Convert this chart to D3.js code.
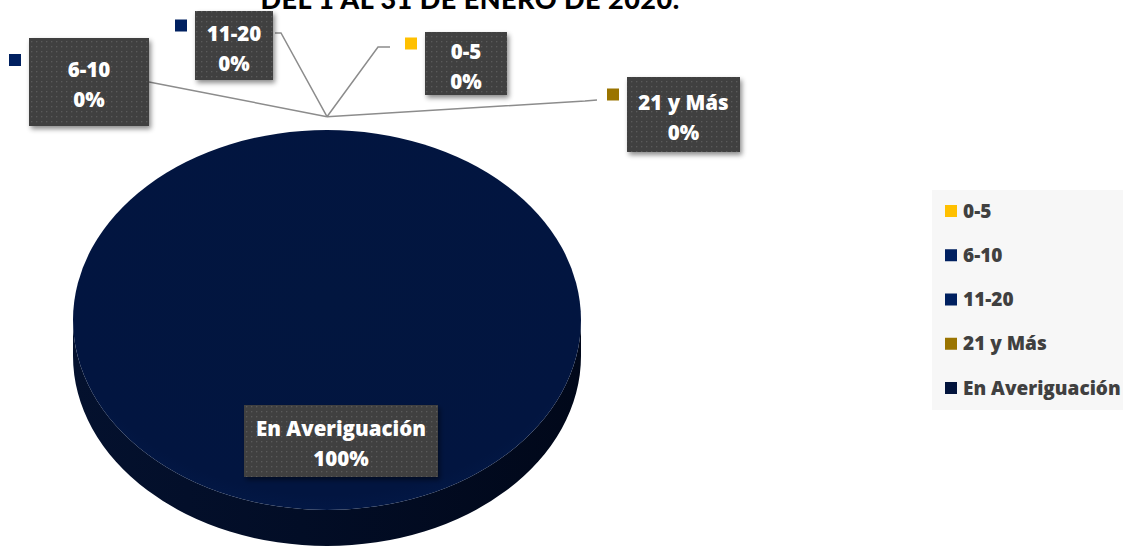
<!DOCTYPE html>
<html>
<head>
<meta charset="utf-8">
<script src="https://cdn.jsdelivr.net/npm/d3@7"></script>
<style>
  html, body { margin: 0; padding: 0; background: #fff; }
  svg { display: block; font-family: "Open Sans", Lato, sans-serif; }
</style>
</head>
<body>
<svg id="chart" width="1123" height="546"></svg>
<script>
// Data
const categories = ['0-5', '6-10', '11-20', '21 y Más', 'En Averiguación'];
const values = [0, 0, 0, 0, 100];
const percentLabels = ['0%', '0%', '0%', '0%', '100%'];
const colors = ['#ffc000', '#002060', '#002060', '#9a7400', '#02143c'];
const title = 'DEL 1 AL 31 DE ENERO DE 2020.';

// Label box layout (offsets for the callouts), indexed like categories
const boxes = [
  { x: 425, y: 32, w: 82, h: 63, line: [[390, 47], [378, 47]] },
  { x: 29, y: 38, w: 120, h: 88, line: [[149, 82]] },
  { x: 195, y: 11, w: 78, h: 69, line: [[275, 33], [281, 33]] },
  { x: 627, y: 77, w: 113, h: 75, line: [[597, 100], [585, 101]] },
  { x: 244, y: 405, w: 194, h: 72, line: null },
];

const svg = d3.select('#chart');
const defs = svg.append('defs');

// Dotted fill used by the callout boxes
const pat = defs.append('pattern')
  .attr('id', 'dots')
  .attr('width', 5).attr('height', 5)
  .attr('patternUnits', 'userSpaceOnUse');
pat.append('rect').attr('width', 5).attr('height', 5).attr('fill', '#404040');
pat.append('rect').attr('x', 1).attr('y', 1).attr('width', 1.3).attr('height', 1.3).attr('fill', '#5a5a5a');

const shadow = defs.append('filter').attr('id', 'shadow')
  .attr('x', '-20%').attr('y', '-20%').attr('width', '150%').attr('height', '150%');
shadow.append('feDropShadow')
  .attr('dx', 2).attr('dy', 3).attr('stdDeviation', 2.5)
  .attr('flood-color', '#000').attr('flood-opacity', 0.45);

const sideGrad = defs.append('linearGradient').attr('id', 'side')
  .attr('x1', 0).attr('x2', 1).attr('y1', 0).attr('y2', 0);
sideGrad.append('stop').attr('offset', '0%').attr('stop-color', '#04112e');
sideGrad.append('stop').attr('offset', '45%').attr('stop-color', '#020d26');
sideGrad.append('stop').attr('offset', '100%').attr('stop-color', '#01081a');

const topGrad = defs.append('radialGradient').attr('id', 'topface')
  .attr('cx', '50%').attr('cy', '45%').attr('r', '60%');
topGrad.append('stop').attr('offset', '0%').attr('stop-color', '#02163f');
topGrad.append('stop').attr('offset', '85%').attr('stop-color', '#021540');
topGrad.append('stop').attr('offset', '100%').attr('stop-color', '#031a4a');

// Title (clipped at top of frame like the reference)
svg.append('text')
  .attr('x', 470).attr('y', 9)
  .attr('text-anchor', 'middle')
  .attr('font-family', 'Lato, sans-serif')
  .attr('font-size', 27).attr('font-weight', 900)
  .attr('letter-spacing', 0.5)
  .attr('fill', '#000')
  .text(title);

// Pie geometry
const cx = 327, cy = 320, rx = 254, ry = 190, depth = 36;
const tilt = ry / rx;

const pie = d3.pie().sort(null).value((d) => d);
const arcs = pie(values);
const arc = d3.arc().innerRadius(0).outerRadius(rx);

const pieG = svg.append('g');

// Side of the disc (lower half of a shifted ellipse joined to the rim)
const sideD = [
  `M${cx - rx},${cy}`,
  `L${cx - rx},${cy + depth}`,
  `A${rx},${ry} 0 0 0 ${cx + rx},${cy + depth}`,
  `L${cx + rx},${cy}`,
  `A${rx},${ry} 0 0 1 ${cx - rx},${cy}`,
  'Z',
].join(' ');
pieG.append('path').attr('d', sideD).attr('fill', 'url(#side)');

// Top face: slices scaled into an ellipse
pieG.append('g')
  .attr('transform', `translate(${cx},${cy}) scale(1,${tilt})`)
  .selectAll('path')
  .data(arcs)
  .join('path')
  .attr('d', arc)
  .attr('fill', (d, i) => (i === 4 ? 'url(#topface)' : colors[i]));

// Leader lines: anchor of zero slices sits just above the rim
const anchorArc = d3.arc().innerRadius(rx * 1.07).outerRadius(rx * 1.07);
const project = (p) => [cx + p[0], cy + p[1] * tilt];

const lineG = svg.append('g');
const labelG = svg.append('g');

arcs.forEach((d, i) => {
  const b = boxes[i];
  if (b.line) {
    const a = project(anchorArc.centroid(d));
    const pts = [a].concat(b.line.slice().reverse());
    lineG.append('path')
      .attr('d', d3.line()(pts))
      .attr('fill', 'none')
      .attr('stroke', '#8c8c8c')
      .attr('stroke-width', 1.5);
  }
});

// Callout boxes
arcs.forEach((d, i) => {
  const b = boxes[i];
  const g = labelG.append('g');
  g.append('rect')
    .attr('x', b.x).attr('y', b.y)
    .attr('width', b.w).attr('height', b.h)
    .attr('fill', 'url(#dots)')
    .attr('filter', 'url(#shadow)');
  const midX = b.x + b.w / 2;
  const midY = b.y + b.h / 2;
  g.append('text')
    .attr('x', midX).attr('y', midY - 5)
    .attr('text-anchor', 'middle')
    .attr('font-size', 20.5).attr('font-weight', 800)
    .attr('fill', '#fff')
    .text(categories[i]);
  g.append('text')
    .attr('x', midX).attr('y', midY + 25)
    .attr('text-anchor', 'middle')
    .attr('font-size', 20.5).attr('font-weight', 800)
    .attr('fill', '#fff')
    .text(percentLabels[i]);
  if (i < 4) {
    g.append('rect')
      .attr('x', b.x - 20).attr('y', midY - 26 + (i === 1 ? -2 : 0))
      .attr('width', 12).attr('height', 12)
      .attr('fill', colors[i]);
  }
});

// Legend
const legend = svg.append('g').attr('transform', 'translate(932,190)');
legend.append('rect')
  .attr('width', 191).attr('height', 220)
  .attr('fill', '#f7f7f7');

const ly = d3.scalePoint().domain(categories).range([21, 198]);

const item = legend.selectAll('g.item')
  .data(categories)
  .join('g')
  .attr('class', 'item')
  .attr('transform', (d) => `translate(0,${ly(d)})`);
item.append('rect')
  .attr('x', 13).attr('y', -6)
  .attr('width', 12).attr('height', 12)
  .attr('fill', (d, i) => colors[i]);
item.append('text')
  .attr('x', 31).attr('y', 6.5)
  .attr('font-size', 19).attr('font-weight', 800)
  .attr('fill', '#404040')
  .text((d) => d);
</script>
</body>
</html>
